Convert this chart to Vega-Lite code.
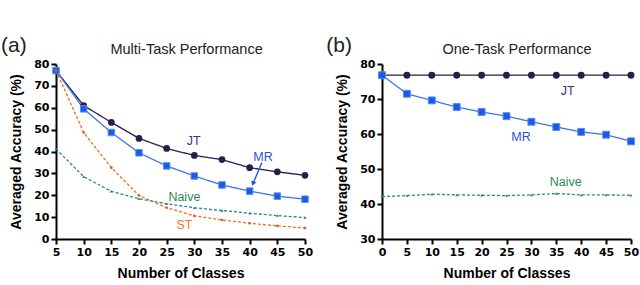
{
  "$schema": "https://vega.github.io/schema/vega-lite/v6.json",
  "background": "white",
  "padding": {"left": 1, "top": 34, "right": 5, "bottom": 5},
  "spacing": 13,
  "config": {
    "font": "Liberation Sans",
    "view": {"stroke": null},
    "axis": {
      "grid": false,
      "domainColor": "black",
      "domainWidth": 2,
      "tickColor": "black",
      "tickWidth": 2,
      "tickSize": 5,
      "tickCount": 30,
      "labelPadding": 2,
      "labelColor": "black",
      "labelFont": "DejaVu Sans",
      "labelFontSize": 11,
      "labelFontWeight": "bold",
      "labelOverlap": false,
      "labelFlush": false,
      "titleFont": "Liberation Sans",
      "titleFontSize": 14,
      "titleFontWeight": "bold",
      "titleColor": "black"
    }
  },
  "datasets": {
    "series": [
      {"panel": "a", "series": "JT", "x": 5, "y": 77},
      {"panel": "a", "series": "JT", "x": 10, "y": 61},
      {"panel": "a", "series": "JT", "x": 15, "y": 53.3},
      {"panel": "a", "series": "JT", "x": 20, "y": 46},
      {"panel": "a", "series": "JT", "x": 25, "y": 41.4},
      {"panel": "a", "series": "JT", "x": 30, "y": 38.2},
      {"panel": "a", "series": "JT", "x": 35, "y": 36.3},
      {"panel": "a", "series": "JT", "x": 40, "y": 32.6},
      {"panel": "a", "series": "JT", "x": 45, "y": 30.7},
      {"panel": "a", "series": "JT", "x": 50, "y": 29.1},
      {"panel": "a", "series": "MR", "x": 5, "y": 77},
      {"panel": "a", "series": "MR", "x": 10, "y": 59.5},
      {"panel": "a", "series": "MR", "x": 15, "y": 48.7},
      {"panel": "a", "series": "MR", "x": 20, "y": 39.4},
      {"panel": "a", "series": "MR", "x": 25, "y": 33.4},
      {"panel": "a", "series": "MR", "x": 30, "y": 28.8},
      {"panel": "a", "series": "MR", "x": 35, "y": 24.7},
      {"panel": "a", "series": "MR", "x": 40, "y": 21.9},
      {"panel": "a", "series": "MR", "x": 45, "y": 19.6},
      {"panel": "a", "series": "MR", "x": 50, "y": 18.2},
      {"panel": "a", "series": "ST", "x": 5, "y": 77},
      {"panel": "a", "series": "ST", "x": 10, "y": 48.7},
      {"panel": "a", "series": "ST", "x": 15, "y": 32.6},
      {"panel": "a", "series": "ST", "x": 20, "y": 19.9},
      {"panel": "a", "series": "ST", "x": 25, "y": 14.3},
      {"panel": "a", "series": "ST", "x": 30, "y": 10.6},
      {"panel": "a", "series": "ST", "x": 35, "y": 8.7},
      {"panel": "a", "series": "ST", "x": 40, "y": 7.2},
      {"panel": "a", "series": "ST", "x": 45, "y": 6},
      {"panel": "a", "series": "ST", "x": 50, "y": 5},
      {"panel": "a", "series": "Naive", "x": 5, "y": 41.2},
      {"panel": "a", "series": "Naive", "x": 10, "y": 28.5},
      {"panel": "a", "series": "Naive", "x": 15, "y": 21.8},
      {"panel": "a", "series": "Naive", "x": 20, "y": 18.4},
      {"panel": "a", "series": "Naive", "x": 25, "y": 16.1},
      {"panel": "a", "series": "Naive", "x": 30, "y": 14.3},
      {"panel": "a", "series": "Naive", "x": 35, "y": 13},
      {"panel": "a", "series": "Naive", "x": 40, "y": 11.8},
      {"panel": "a", "series": "Naive", "x": 45, "y": 10.7},
      {"panel": "a", "series": "Naive", "x": 50, "y": 9.8},
      {"panel": "b", "series": "JT", "x": 0, "y": 76.8},
      {"panel": "b", "series": "JT", "x": 5, "y": 76.8},
      {"panel": "b", "series": "JT", "x": 10, "y": 76.8},
      {"panel": "b", "series": "JT", "x": 15, "y": 76.8},
      {"panel": "b", "series": "JT", "x": 20, "y": 76.8},
      {"panel": "b", "series": "JT", "x": 25, "y": 76.8},
      {"panel": "b", "series": "JT", "x": 30, "y": 76.8},
      {"panel": "b", "series": "JT", "x": 35, "y": 76.8},
      {"panel": "b", "series": "JT", "x": 40, "y": 76.8},
      {"panel": "b", "series": "JT", "x": 45, "y": 76.8},
      {"panel": "b", "series": "JT", "x": 50, "y": 76.8},
      {"panel": "b", "series": "MR", "x": 0, "y": 76.8},
      {"panel": "b", "series": "MR", "x": 5, "y": 71.5},
      {"panel": "b", "series": "MR", "x": 10, "y": 69.6},
      {"panel": "b", "series": "MR", "x": 15, "y": 67.7},
      {"panel": "b", "series": "MR", "x": 20, "y": 66.3},
      {"panel": "b", "series": "MR", "x": 25, "y": 65.1},
      {"panel": "b", "series": "MR", "x": 30, "y": 63.5},
      {"panel": "b", "series": "MR", "x": 35, "y": 62},
      {"panel": "b", "series": "MR", "x": 40, "y": 60.6},
      {"panel": "b", "series": "MR", "x": 45, "y": 59.8},
      {"panel": "b", "series": "MR", "x": 50, "y": 57.9},
      {"panel": "b", "series": "Naive", "x": 0, "y": 42.1},
      {"panel": "b", "series": "Naive", "x": 5, "y": 42.4},
      {"panel": "b", "series": "Naive", "x": 10, "y": 42.8},
      {"panel": "b", "series": "Naive", "x": 15, "y": 42.6},
      {"panel": "b", "series": "Naive", "x": 20, "y": 42.5},
      {"panel": "b", "series": "Naive", "x": 25, "y": 42.4},
      {"panel": "b", "series": "Naive", "x": 30, "y": 42.6},
      {"panel": "b", "series": "Naive", "x": 35, "y": 43},
      {"panel": "b", "series": "Naive", "x": 40, "y": 42.6},
      {"panel": "b", "series": "Naive", "x": 45, "y": 42.6},
      {"panel": "b", "series": "Naive", "x": 50, "y": 42.5}
    ],
    "notes": [
      {"panel": "a", "role": "label", "text": "JT", "x": 29.9, "y": 44.6},
      {"panel": "a", "role": "label", "text": "MR", "x": 42.4, "y": 37.7},
      {"panel": "a", "role": "label", "text": "Naive", "x": 28.2, "y": 19.3},
      {"panel": "a", "role": "label", "text": "ST", "x": 28.2, "y": 6.4},
      {"panel": "a", "role": "letter", "text": "(a)", "x": -2.6, "y": 88.3},
      {"panel": "a", "role": "title", "text": "Multi-Task Performance", "x": 28.6, "y": 86.4},
      {"panel": "b", "role": "label", "text": "JT", "x": 37.3, "y": 72.3},
      {"panel": "b", "role": "label", "text": "MR", "x": 27.9, "y": 59.1},
      {"panel": "b", "role": "label", "text": "Naive", "x": 36.9, "y": 46.3},
      {"panel": "b", "role": "letter", "text": "(b)", "x": -8.6, "y": 85.1},
      {"panel": "b", "role": "title", "text": "One-Task Performance", "x": 27.1, "y": 84}
    ],
    "arrow": [
      {"x": 42.2, "y": 35, "x2": 40.6, "y2": 25.3}
    ]
  },
  "hconcat": [
    {
      "width": 249,
      "height": 175,
      "layer": [
        {
          "data": {"name": "series"},
          "transform": [{"filter": "datum.panel === 'a'"}],
          "mark": {"type": "line", "strokeWidth": 1.3},
          "encoding": {
            "x": {"field": "x", "type": "quantitative", "scale": {"domain": [5, 50], "nice": false, "zero": false}, "axis": {"values": [5, 10, 15, 20, 25, 30, 35, 40, 45, 50], "tickCount": 30, "labelOverlap": false, "labelFlush": false, "title": "Number of Classes", "titlePadding": 9}},
            "y": {"field": "y", "type": "quantitative", "scale": {"domain": [0, 80], "nice": false}, "axis": {"values": [0, 10, 20, 30, 40, 50, 60, 70, 80], "tickCount": 30, "labelOverlap": false, "labelFlush": false, "title": "Averaged Accuracy (%)", "titlePadding": 10}},
            "color": {"field": "series", "type": "nominal", "scale": {"domain": ["JT", "MR", "ST", "Naive"], "range": ["#2d1b4e", "#3a78e8", "#f26b21", "#2a8a8a"]}, "legend": null},
            "strokeDash": {"field": "series", "type": "nominal", "scale": {"domain": ["JT", "MR", "ST", "Naive"], "range": [[1, 0], [1, 0], [3, 2], [3, 2]]}, "legend": null}
          }
        },
        {
          "data": {"name": "series"},
          "transform": [{"filter": "datum.panel === 'a' && datum.series === 'JT'"}],
          "mark": {"type": "point", "shape": "circle", "filled": true, "color": "#2d1b4e", "size": 45, "opacity": 1},
          "encoding": {"x": {"field": "x", "type": "quantitative"}, "y": {"field": "y", "type": "quantitative"}}
        },
        {
          "data": {"name": "series"},
          "transform": [{"filter": "datum.panel === 'a' && datum.series === 'MR'"}],
          "mark": {"type": "point", "shape": "square", "filled": true, "fill": "#1a5be6", "stroke": "#5a8ef0", "strokeWidth": 1, "size": 42, "opacity": 1},
          "encoding": {"x": {"field": "x", "type": "quantitative"}, "y": {"field": "y", "type": "quantitative"}}
        },
        {
          "data": {"name": "series"},
          "transform": [{"filter": "datum.panel === 'a' && datum.series === 'ST'"}],
          "mark": {"type": "point", "shape": "circle", "filled": true, "color": "#e8581a", "size": 7, "opacity": 1},
          "encoding": {"x": {"field": "x", "type": "quantitative"}, "y": {"field": "y", "type": "quantitative"}}
        },
        {
          "data": {"name": "series"},
          "transform": [{"filter": "datum.panel === 'a' && datum.series === 'Naive'"}],
          "mark": {"type": "point", "shape": "triangle-up", "filled": true, "color": "#1f7f7f", "size": 8, "opacity": 1},
          "encoding": {"x": {"field": "x", "type": "quantitative"}, "y": {"field": "y", "type": "quantitative"}}
        },
        {
          "data": {"name": "arrow"},
          "mark": {"type": "rule", "color": "#1f55d8", "strokeWidth": 1.3},
          "encoding": {
            "x": {"field": "x", "type": "quantitative"},
            "y": {"field": "y", "type": "quantitative"},
            "x2": {"field": "x2"},
            "y2": {"field": "y2"}
          }
        },
        {
          "data": {"name": "arrow"},
          "mark": {"type": "point", "shape": "triangle-down", "filled": true, "color": "#1f55d8", "size": 30, "angle": 22, "opacity": 1},
          "encoding": {
            "x": {"field": "x2", "type": "quantitative"},
            "y": {"field": "y2", "type": "quantitative"}
          }
        },
        {
          "data": {"name": "notes"},
          "transform": [{"filter": "datum.panel === 'a' && datum.role === 'label'"}],
          "mark": {"type": "text", "font": "Liberation Sans", "fontSize": 12.5, "align": "center", "baseline": "middle"},
          "encoding": {
            "x": {"field": "x", "type": "quantitative"},
            "y": {"field": "y", "type": "quantitative"},
            "text": {"field": "text"},
            "color": {"field": "text", "type": "nominal", "scale": {"domain": ["JT", "MR", "Naive", "ST"], "range": ["#4b2c7f", "#1f55d8", "#2e8b4f", "#f07a2a"]}, "legend": null}
          }
        },
        {
          "data": {"name": "notes"},
          "transform": [{"filter": "datum.panel === 'a' && datum.role === 'letter'"}],
          "mark": {"type": "text", "font": "Liberation Sans", "fontSize": 21, "color": "#222", "align": "center", "baseline": "middle"},
          "encoding": {
            "x": {"field": "x", "type": "quantitative"},
            "y": {"field": "y", "type": "quantitative"},
            "text": {"field": "text"}
          }
        },
        {
          "data": {"name": "notes"},
          "transform": [{"filter": "datum.panel === 'a' && datum.role === 'title'"}],
          "mark": {"type": "text", "font": "Liberation Sans", "fontSize": 14.5, "color": "#222", "align": "center", "baseline": "middle"},
          "encoding": {
            "x": {"field": "x", "type": "quantitative"},
            "y": {"field": "y", "type": "quantitative"},
            "text": {"field": "text"}
          }
        }
      ],
      "resolve": {"scale": {"color": "independent"}}
    },
    {
      "width": 249,
      "height": 175,
      "layer": [
        {
          "data": {"name": "series"},
          "transform": [{"filter": "datum.panel === 'b'"}],
          "mark": {"type": "line", "strokeWidth": 1.3},
          "encoding": {
            "x": {"field": "x", "type": "quantitative", "scale": {"domain": [0, 50], "nice": false}, "axis": {"values": [0, 5, 10, 15, 20, 25, 30, 35, 40, 45, 50], "tickCount": 30, "labelOverlap": false, "labelFlush": false, "title": "Number of Classes", "titlePadding": 9}},
            "y": {"field": "y", "type": "quantitative", "scale": {"domain": [30, 80], "nice": false, "zero": false}, "axis": {"values": [30, 40, 50, 60, 70, 80], "tickCount": 30, "labelOverlap": false, "labelFlush": false, "title": "Averaged Accuracy (%)", "titlePadding": 10}},
            "color": {"field": "series", "type": "nominal", "scale": {"domain": ["JT", "MR", "Naive"], "range": ["#2d1b4e", "#3a78e8", "#2a8a8a"]}, "legend": null},
            "strokeDash": {"field": "series", "type": "nominal", "scale": {"domain": ["JT", "MR", "Naive"], "range": [[1, 0], [1, 0], [3, 2]]}, "legend": null}
          }
        },
        {
          "data": {"name": "series"},
          "transform": [{"filter": "datum.panel === 'b' && datum.series === 'JT'"}],
          "mark": {"type": "point", "shape": "circle", "filled": true, "color": "#2d1b4e", "size": 48, "opacity": 1},
          "encoding": {"x": {"field": "x", "type": "quantitative"}, "y": {"field": "y", "type": "quantitative"}}
        },
        {
          "data": {"name": "series"},
          "transform": [{"filter": "datum.panel === 'b' && datum.series === 'MR'"}],
          "mark": {"type": "point", "shape": "square", "filled": true, "fill": "#1a5be6", "stroke": "#5a8ef0", "strokeWidth": 1, "size": 48, "opacity": 1},
          "encoding": {"x": {"field": "x", "type": "quantitative"}, "y": {"field": "y", "type": "quantitative"}}
        },
        {
          "data": {"name": "series"},
          "transform": [{"filter": "datum.panel === 'b' && datum.series === 'Naive'"}],
          "mark": {"type": "point", "shape": "triangle-up", "filled": true, "color": "#1f7f7f", "size": 8, "opacity": 1},
          "encoding": {"x": {"field": "x", "type": "quantitative"}, "y": {"field": "y", "type": "quantitative"}}
        },
        {
          "data": {"name": "notes"},
          "transform": [{"filter": "datum.panel === 'b' && datum.role === 'label'"}],
          "mark": {"type": "text", "font": "Liberation Sans", "fontSize": 12.5, "align": "center", "baseline": "middle"},
          "encoding": {
            "x": {"field": "x", "type": "quantitative"},
            "y": {"field": "y", "type": "quantitative"},
            "text": {"field": "text"},
            "color": {"field": "text", "type": "nominal", "scale": {"domain": ["JT", "MR", "Naive"], "range": ["#4b2c7f", "#1f55d8", "#2e8b4f"]}, "legend": null}
          }
        },
        {
          "data": {"name": "notes"},
          "transform": [{"filter": "datum.panel === 'b' && datum.role === 'letter'"}],
          "mark": {"type": "text", "font": "Liberation Sans", "fontSize": 21, "color": "#222", "align": "center", "baseline": "middle"},
          "encoding": {
            "x": {"field": "x", "type": "quantitative"},
            "y": {"field": "y", "type": "quantitative"},
            "text": {"field": "text"}
          }
        },
        {
          "data": {"name": "notes"},
          "transform": [{"filter": "datum.panel === 'b' && datum.role === 'title'"}],
          "mark": {"type": "text", "font": "Liberation Sans", "fontSize": 14.5, "color": "#222", "align": "center", "baseline": "middle"},
          "encoding": {
            "x": {"field": "x", "type": "quantitative"},
            "y": {"field": "y", "type": "quantitative"},
            "text": {"field": "text"}
          }
        }
      ],
      "resolve": {"scale": {"color": "independent"}}
    }
  ]
}
